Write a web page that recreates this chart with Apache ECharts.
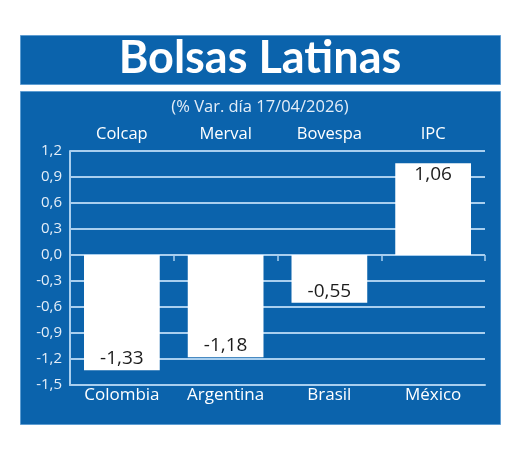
<!DOCTYPE html>
<html>
<head>
<meta charset="utf-8">
<script src="https://cdn.jsdelivr.net/npm/echarts@6/dist/echarts.min.js"></script>
<style>
html,body{margin:0;padding:0;background:#fff;}
#c{width:520px;height:452px;}
</style>
</head>
<body>
<div id="c"></div>
<script>
var countries = ['Colombia', 'Argentina', 'Brasil', 'México'];
var indices = ['Colcap', 'Merval', 'Bovespa', 'IPC'];
var values = [-1.33, -1.18, -0.55, 1.06];
var yTicks = { min: -1.5, max: 1.2, interval: 0.3 };
var titleText = 'Bolsas Latinas';
var subtitleText = '(% Var. día 17/04/2026)';

var BLUE = '#0b63ac';
var LINE = '#a9cfef';

var chart = echarts.init(document.getElementById('c'));
chart.setOption({
  backgroundColor: '#ffffff',
  animation: false,
  graphic: [
    { type: 'rect', z: -10, shape: { x: 20.5, y: 35.5, width: 480, height: 49 }, style: { fill: BLUE, stroke: '#5e9dd2', lineWidth: 1 } },
    { type: 'rect', z: -10, shape: { x: 20.5, y: 91.5, width: 480, height: 333 }, style: { fill: BLUE, stroke: '#5e9dd2', lineWidth: 1 } }
  ],
  title: [
    { text: titleText, left: 'center', top: 31, textStyle: { color: '#ffffff', fontFamily: 'Lato', fontWeight: 'bold', fontSize: 45 } },
    { text: subtitleText, left: 'center', top: 94, textStyle: { color: '#e4eef8', fontFamily: 'Open Sans', fontWeight: 'normal', fontSize: 16.5 } }
  ],
  grid: { left: 70, right: 35, top: 151, bottom: 67 },
  xAxis: [
    {
      type: 'category', position: 'bottom', data: countries,
      axisLine: { onZero: false, lineStyle: { color: LINE, width: 2 } },
      axisTick: { show: false },
      axisLabel: { color: '#ffffff', fontFamily: 'Open Sans', fontSize: 17, margin: 2 }
    },
    {
      type: 'category', position: 'top', data: indices,
      axisLine: { show: false, onZero: false },
      axisTick: { show: false },
      axisLabel: { color: '#ffffff', fontFamily: 'Open Sans', fontSize: 16.5, margin: 8 }
    },
    {
      type: 'category', position: 'top', data: indices,
      axisLine: { show: false, onZero: true },
      axisTick: { show: true, inside: true, length: 6, lineStyle: { color: LINE, width: 1.5 } },
      axisLabel: { show: false }
    }
  ],
  yAxis: {
    type: 'value', min: yTicks.min, max: yTicks.max, interval: yTicks.interval,
    axisLine: { show: true, lineStyle: { color: LINE, width: 2 } },
    axisTick: { show: false },
    axisLabel: { color: '#e4eef8', fontFamily: 'Open Sans', fontSize: 15, margin: 8, formatter: function (v) { return v.toFixed(1).replace('.', ','); } },
    splitLine: { show: true, lineStyle: { color: LINE, width: 2 } }
  },
  series: [{
    type: 'bar', xAxisIndex: 0, barWidth: '73%',
    data: values.map(function (v) {
      return { value: v, label: { position: v < 0 ? 'insideBottom' : 'insideTop' } };
    }),
    itemStyle: { color: '#ffffff' },
    label: { show: true, color: '#1c1c1c', fontFamily: 'Open Sans', fontSize: 19, distance: 2, formatter: function (p) { return p.value.toFixed(2).replace('.', ','); } }
  }]
});
</script>
</body>
</html>
